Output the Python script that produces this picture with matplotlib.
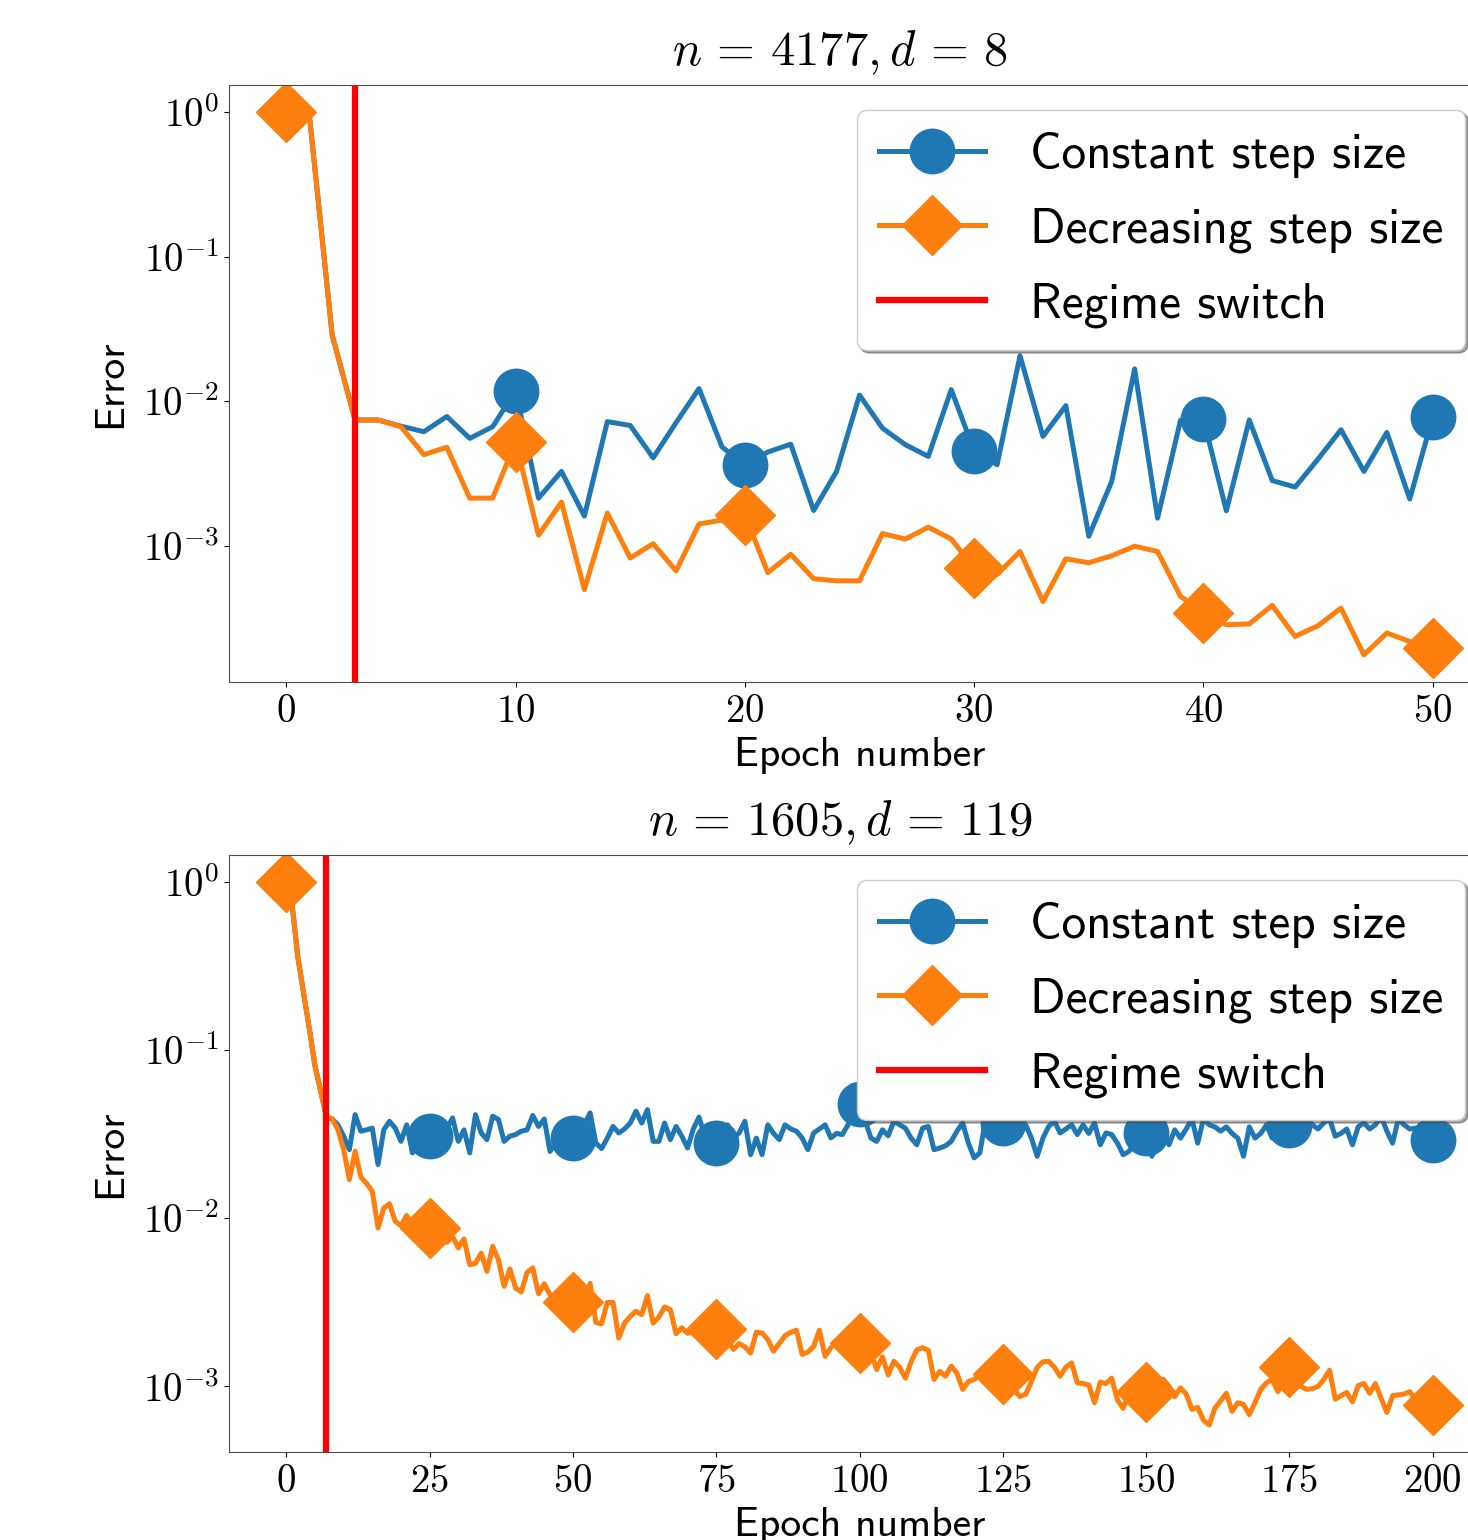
import numpy as np
import matplotlib
matplotlib.use('Agg')
import matplotlib.pyplot as plt
from matplotlib.ticker import FuncFormatter, NullLocator

plt.rcParams['font.family'] = 'cmss10'
plt.rcParams['mathtext.fontset'] = 'cm'
plt.rcParams['axes.unicode_minus'] = False
plt.rcParams['axes.formatter.use_mathtext'] = True

# ---- data: n = 4177, d = 8 (51 epochs) ----
titles = [r'$n\,=\,4177, d\,=\,8$', r'$n\,=\,1605, d\,=\,119$']
switch_epoch = [3, 7]
mark_every = [10, 25]

const_a = [1.0, 0.97, 0.0286, 0.0074, 0.0074, 0.0067, 0.00614, 0.00782, 0.00552, 0.00665,
           0.0118, 0.00213, 0.00326, 0.0016, 0.00721, 0.00678, 0.00405, 0.0071, 0.0122, 0.00482,
           0.00362, 0.00444, 0.00503, 0.00175, 0.00326, 0.0110, 0.0065, 0.00499, 0.00414, 0.012,
           0.00454, 0.00363, 0.0206, 0.0057, 0.0093, 0.00116, 0.00278, 0.0167, 0.00155, 0.00736,
           0.00752, 0.00174, 0.0074, 0.00282, 0.00254, 0.00397, 0.00634, 0.00326, 0.00607, 0.0021,
           0.00776]
decr_a = [1.0, 0.97, 0.0286, 0.0074, 0.0074, 0.00665, 0.00426, 0.00479, 0.00213, 0.00213,
          0.0052, 0.00118, 0.0020, 0.000496, 0.00168, 0.00082, 0.00103, 0.000668, 0.00141, 0.0015,
          0.00163, 0.00065, 0.00087, 0.00059, 0.00057, 0.00057, 0.00121, 0.00111, 0.00134, 0.00111,
          0.0007, 0.00063, 0.00091, 0.00041, 0.00081, 0.00076, 0.00085, 0.00099, 0.00091, 0.000445,
          0.000344, 0.000283, 0.000287, 0.000385, 0.000235, 0.000279, 0.000369, 0.000175, 0.000248, 0.000217,
          0.000195]

# ---- data: n = 1605, d = 119 (201 epochs) ----
const_b = [1.0, 0.74, 0.36, 0.22, 0.135, 0.081, 0.057, 0.040, 0.039, 0.036,
           0.0308, 0.0256, 0.0414, 0.033, 0.0336, 0.0344, 0.0209, 0.0336, 0.0378, 0.0344,
           0.0287, 0.036, 0.0245, 0.030, 0.031, 0.0308, 0.030, 0.0287, 0.034, 0.0396,
           0.0287, 0.0336, 0.0245, 0.0414, 0.0322, 0.0294, 0.0405, 0.0387, 0.0287, 0.0308,
           0.0315, 0.033, 0.0336, 0.0409, 0.0352, 0.039, 0.025, 0.028, 0.031, 0.030,
           0.030, 0.032, 0.036, 0.0424, 0.028, 0.026, 0.030, 0.0352, 0.0322, 0.034,
           0.0369, 0.0434, 0.0369, 0.0443, 0.0287, 0.0287, 0.0369, 0.0294, 0.0352, 0.0308,
           0.0262, 0.034, 0.040, 0.031, 0.029, 0.028, 0.031, 0.036, 0.030, 0.0322,
           0.0378, 0.0239, 0.030, 0.0239, 0.036, 0.032, 0.0294, 0.036, 0.034, 0.033,
           0.030, 0.0256, 0.0322, 0.034, 0.036, 0.0301, 0.032, 0.0315, 0.036, 0.0414,
           0.048, 0.038, 0.030, 0.0287, 0.0336, 0.031, 0.0378, 0.036, 0.0344, 0.030,
           0.0274, 0.0344, 0.0352, 0.0256, 0.0262, 0.027, 0.0287, 0.033, 0.0369, 0.028,
           0.0229, 0.0245, 0.039, 0.034, 0.036, 0.037, 0.035, 0.033, 0.0378, 0.036,
           0.030, 0.0234, 0.030, 0.0352, 0.0378, 0.0322, 0.034, 0.036, 0.0315, 0.036,
           0.032, 0.037, 0.0274, 0.0322, 0.0315, 0.028, 0.0239, 0.025, 0.028, 0.030,
           0.0322, 0.0234, 0.028, 0.0322, 0.0274, 0.0336, 0.030, 0.034, 0.039, 0.028,
           0.039, 0.036, 0.035, 0.033, 0.035, 0.032, 0.030, 0.0234, 0.035, 0.030,
           0.032, 0.036, 0.030, 0.034, 0.037, 0.036, 0.033, 0.0294, 0.0404, 0.036,
           0.034, 0.037, 0.039, 0.0308, 0.032, 0.034, 0.0274, 0.035, 0.037, 0.034,
           0.036, 0.0404, 0.033, 0.028, 0.039, 0.036, 0.034, 0.0344, 0.033, 0.031,
           0.0294]
decr_b = [1.0, 0.74, 0.36, 0.22, 0.135, 0.081, 0.057, 0.040, 0.039, 0.0337,
          0.0256, 0.017, 0.0251, 0.0176, 0.0161, 0.0145, 0.00877, 0.0115, 0.0122, 0.0096,
          0.00904, 0.0104, 0.00896, 0.0095, 0.0090, 0.0087, 0.0080, 0.0078, 0.0072, 0.0078,
          0.00667, 0.00754, 0.0053, 0.0054, 0.0062, 0.00484, 0.0068, 0.00568, 0.00394, 0.0050,
          0.00385, 0.00365, 0.00477, 0.00507, 0.00356, 0.00408, 0.00351, 0.0034, 0.0033, 0.0035,
          0.00318, 0.0030, 0.0033, 0.0041, 0.0024, 0.00236, 0.00316, 0.00316, 0.00194, 0.00238,
          0.00261, 0.0028, 0.00267, 0.00347, 0.00238, 0.00259, 0.00297, 0.00286, 0.00206, 0.00223,
          0.00207, 0.0021, 0.0022, 0.0019, 0.0018, 0.0022, 0.0020, 0.0019, 0.00166, 0.0018,
          0.00172, 0.00158, 0.0021, 0.00208, 0.0019, 0.00162, 0.0018, 0.0020, 0.0021, 0.00216,
          0.00155, 0.0016, 0.00173, 0.00216, 0.00151, 0.0017, 0.0018, 0.0019, 0.0017, 0.0018,
          0.00181, 0.0015, 0.00158, 0.00126, 0.0015, 0.00117, 0.00141, 0.0013, 0.00112, 0.0014,
          0.00165, 0.0017, 0.00164, 0.0011, 0.00123, 0.00115, 0.00132, 0.0012, 0.00096, 0.00107,
          0.0011, 0.00115, 0.0012, 0.0011, 0.00105, 0.00119, 0.0010, 0.00095, 0.00087, 0.0009,
          0.00107, 0.0013, 0.0014, 0.00141, 0.0013, 0.00115, 0.0013, 0.00138, 0.00105, 0.00104,
          0.00102, 0.0008, 0.00106, 0.00104, 0.00112, 0.00083, 0.00074, 0.0009, 0.00095, 0.0009,
          0.00092, 0.0010, 0.00095, 0.0011, 0.0010, 0.00087, 0.00098, 0.0009, 0.00073, 0.00075,
          0.00063, 0.00059, 0.00074, 0.00082, 0.00091, 0.00071, 0.0008, 0.00078, 0.00068, 0.0008,
          0.00096, 0.00105, 0.0011, 0.00093, 0.0011, 0.0013, 0.0011, 0.0010, 0.00096, 0.00097,
          0.0010, 0.0011, 0.00125, 0.00084, 0.00088, 0.00092, 0.00081, 0.00101, 0.00104, 0.00091,
          0.00104, 0.00085, 0.0007, 0.00088, 0.00089, 0.0009, 0.00093, 0.00083, 0.00087, 0.00082,
          0.00078]

series = [(const_a, decr_a), (const_b, decr_b)]

fig = plt.figure(figsize=(14.68, 15.4), dpi=100)
positions = [[0.156, 0.5571, 0.859, 0.3877], [0.156, 0.0571, 0.859, 0.3877]]

for k in range(2):
    ax = fig.add_axes(positions[k])
    c, dcr = series[k]
    epochs = np.arange(len(c))
    me = mark_every[k]
    # blue markers sit under the orange diamond at epoch 0, so start at the first step
    ax.plot(epochs, c, color='#1f77b4', lw=3.6, marker='o', ms=32,
            markevery=(me, me), label='Constant step size')
    ax.plot(epochs, dcr, color='#ff7f0e', lw=3.6, marker='D', ms=31,
            markevery=me, label='Decreasing step size')
    ax.axvline(switch_epoch[k], color='red', lw=4.5, label='Regime switch')
    ax.set_yscale('log')
    ax.yaxis.set_minor_locator(NullLocator())
    ax.yaxis.set_major_formatter(FuncFormatter(lambda v, p: r'$10^{%d}$' % round(np.log10(v))))
    ax.xaxis.set_major_formatter(FuncFormatter(lambda v, p: r'$%d$' % v))
    ax.tick_params(labelsize=28)
    ax.tick_params(axis='x', pad=6)
    ax.set_xlabel('Epoch number', fontsize=30, labelpad=5)
    ax.set_ylabel('Error', fontsize=30, labelpad=10)
    ax.set_title(titles[k], fontsize=35, pad=14, x=0.4845)
    for s in ax.spines.values():
        s.set_edgecolor('0.3')
    ax.legend(loc='upper right', fontsize=35.5, shadow=True, framealpha=1,
              handlelength=2.15, handletextpad=0.9, labelspacing=0.6, borderpad=0.45)

fig.savefig('out.png', dpi=100)
